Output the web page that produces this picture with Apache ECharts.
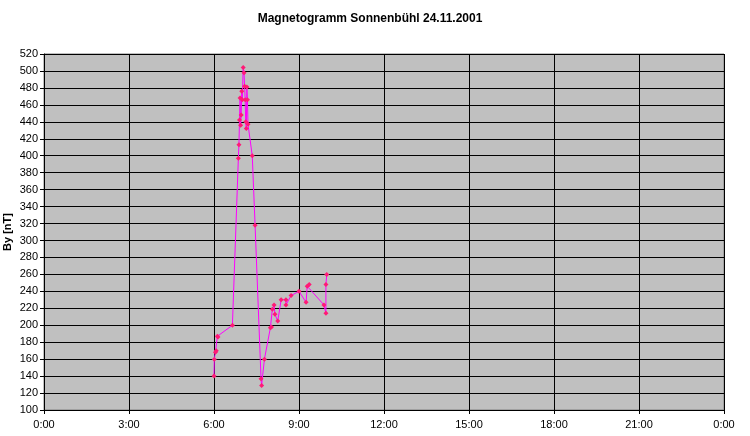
<!DOCTYPE html>
<html>
<head>
<meta charset="utf-8">
<script src="https://cdn.jsdelivr.net/npm/echarts@6/dist/echarts.min.js"></script>
<style>
html,body{margin:0;padding:0;background:#fff;}
#chart{width:750px;height:436px;}
</style>
</head>
<body>
<div id="chart"></div>
<script>
// Time of day in hours (decimal)
var times = [6.00, 6.01, 6.05, 6.08, 6.12, 6.14, 6.65, 6.86, 6.88, 6.90, 6.92, 6.94, 6.96, 6.98, 7.00, 7.03, 7.06, 7.08, 7.10, 7.12, 7.14, 7.16, 7.18, 7.20, 7.35, 7.45, 7.66, 7.68, 7.78, 7.99, 8.03, 8.06, 8.12, 8.15, 8.25, 8.37, 8.54, 8.54, 8.72, 9.00, 9.25, 9.29, 9.36, 9.88, 9.95, 9.95, 9.98];
// By in nT
var values = [140, 160, 168, 170, 187, 186, 200, 397, 413, 442, 468, 436, 448, 476, 466, 504, 498, 482, 466, 440, 432, 481, 466, 437, 400, 318, 137, 129, 160, 197, 198, 219, 224, 213, 205, 230, 230, 224, 235, 240, 227, 246, 248, 224, 214, 248, 260];
var xTicks = ['0:00', '3:00', '6:00', '9:00', '12:00', '15:00', '18:00', '21:00', '0:00'];
var titleText = 'Magnetogramm Sonnenbühl 24.11.2001';
var yName = 'By [nT]';

var data = times.map(function (t, i) { return [t, values[i]]; });
var chart = echarts.init(document.getElementById('chart'));
chart.setOption({
  animation: false,
  backgroundColor: '#ffffff',
  textStyle: { fontFamily: 'Liberation Sans, Arial, sans-serif' },
  title: {
    text: titleText,
    left: 365, top: 8, textAlign: 'center',
    textStyle: { fontSize: 12, fontWeight: 'bold', color: '#000', fontFamily: 'Liberation Sans, Arial, sans-serif' }
  },
  graphic: [{
    type: 'text', x: 8, y: 232, rotation: Math.PI / 2,
    style: { text: yName, fill: '#000', font: 'bold 11px Liberation Sans, Arial, sans-serif', align: 'center', verticalAlign: 'middle' }
  }],
  grid: { left: 44, top: 54, width: 680, height: 356, backgroundColor: '#c0c0c0', show: true, borderColor: '#808080', borderWidth: 1, containLabel: false, outerBoundsMode: 'none' },
  xAxis: {
    type: 'value', min: 0, max: 24, interval: 3,
    axisLine: { show: true, lineStyle: { color: '#000', width: 1 } },
    axisTick: { show: true, length: 4, lineStyle: { color: '#000' } },
    axisLabel: { color: '#000', fontSize: 11, margin: 9,
      formatter: function (v) { return xTicks[Math.round(v / 3)]; } },
    splitLine: { show: true, lineStyle: { color: '#000', width: 1 } }
  },
  yAxis: {
    type: 'value', min: 100, max: 520, interval: 20,
    axisLine: { show: true, lineStyle: { color: '#000', width: 1 } },
    axisTick: { show: true, length: 4, lineStyle: { color: '#000' } },
    axisLabel: { color: '#000', fontSize: 11, margin: 6 },
    splitLine: { show: true, lineStyle: { color: '#000', width: 1 } }
  },
  series: [{
    type: 'line', data: data,
    lineStyle: { color: '#ff00ff', width: 1 },
    itemStyle: { color: '#ff1a75' },
    symbol: 'diamond', symbolSize: 5, showSymbol: true
  }]
});
</script>
</body>
</html>
